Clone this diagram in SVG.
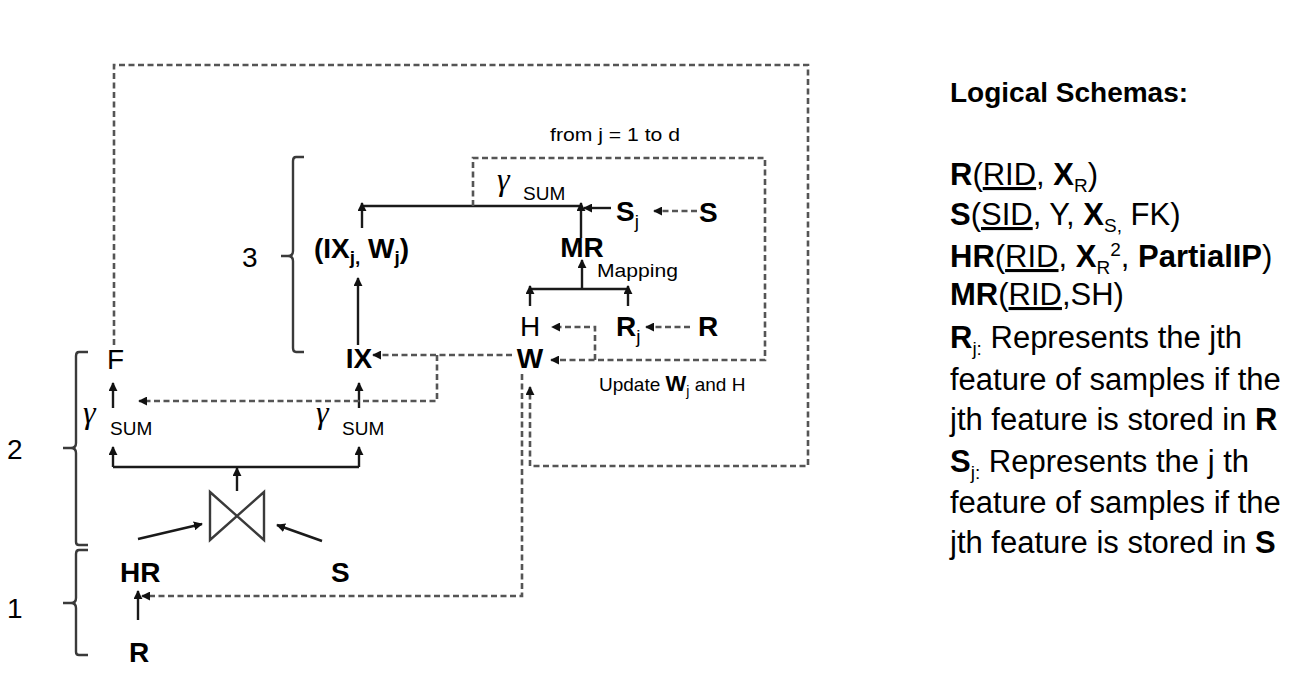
<svg xmlns="http://www.w3.org/2000/svg" width="1312" height="680" viewBox="0 0 1312 680">
<style>
text{font-family:"Liberation Sans",Arial,sans-serif;fill:#000}
.b{font-weight:bold;font-size:28px}
.r{font-size:28px}
.sm{font-size:19px}
.g{font-family:"Liberation Serif","DejaVu Serif",serif;font-style:italic;font-size:32px}
.sum{font-size:19px}
.solid{fill:none;stroke:#1a1a1a;stroke-width:2.4}
.dash{fill:none;stroke:#555;stroke-width:2.6;stroke-dasharray:6 3.5}
.br{fill:none;stroke:#3a3a3a;stroke-width:2.4}
.p{font-size:31px}
.pb{font-weight:bold}
.u{text-decoration:underline}
</style>
<defs>
<marker id="ah" viewBox="0 0 10 10" refX="9" refY="5" markerWidth="9" markerHeight="9" markerUnits="userSpaceOnUse" orient="auto">
<path d="M0,0 L10,5 L0,10 z" fill="#111" stroke="none"/>
</marker>
</defs>

<g id="brackets">
<path class="br" d="M304,157 H296 Q293,157 293,161 V251 Q293,256 288,256 H281 M288,256 Q293,256 293,261 V348 Q293,352 296,352 H304"/>
<path class="br" d="M88,352 H79 Q76,352 76,356 V443 Q76,448 71,448 H63 M71,448 Q76,448 76,453 V542 Q76,545 79,545 H88"/>
<path class="br" d="M88,550 H79 Q76,550 76,554 V598 Q76,603 71,603 H63 M71,603 Q76,603 76,608 V652 Q76,655 79,655 H88"/>
<text class="r" x="242" y="267">3</text>
<text class="r" x="7" y="459">2</text>
<text class="r" x="7" y="618">1</text>
</g>

<g id="connectors">
<!-- solid -->
<path class="solid" d="M113,467 H359"/>
<path class="solid" d="M113,467 V447" marker-end="url(#ah)"/>
<path class="solid" d="M359,467 V447" marker-end="url(#ah)"/>
<path class="solid" d="M237,491 V468" marker-end="url(#ah)"/>
<path class="solid" d="M113,408 V383" marker-end="url(#ah)"/>
<path class="solid" d="M359,408 V383" marker-end="url(#ah)"/>
<path class="solid" d="M358,345 V278" marker-end="url(#ah)"/>
<path class="solid" d="M362,206 H581"/>
<path class="solid" d="M362,228 V203" marker-end="url(#ah)"/>
<path class="solid" d="M581,238 V203" marker-end="url(#ah)"/>
<path class="solid" d="M611,208 H584" marker-end="url(#ah)"/>
<path class="solid" d="M530,289 H628"/>
<path class="solid" d="M530,306 V286" marker-end="url(#ah)"/>
<path class="solid" d="M628,306 V286" marker-end="url(#ah)"/>
<path class="solid" d="M582,289 V260" marker-end="url(#ah)"/>
<path class="solid" d="M138,539 L202,524" marker-end="url(#ah)"/>
<path class="solid" d="M322,541 L277,525" marker-end="url(#ah)"/>
<path class="solid" d="M138,620 V591" marker-end="url(#ah)"/>
<!-- dashed -->
<path class="dash" d="M114,345 V65 H808 V466 H530 V387" marker-end="url(#ah)"/>
<path class="dash" d="M522,374 V596 H142" marker-end="url(#ah)"/>
<path class="dash" d="M512,355 H373" marker-end="url(#ah)"/>
<path class="dash" d="M437,355 V401 H139" marker-end="url(#ah)"/>
<path class="dash" d="M473,206 V158 H765 V360 H551" marker-end="url(#ah)"/>
<path class="dash" d="M595,360 V327 H552" marker-end="url(#ah)"/>
<path class="dash" d="M690,327 H646" marker-end="url(#ah)"/>
<path class="dash" d="M697,211 H654" marker-end="url(#ah)"/>
</g>

<g id="join">
<path class="br" d="M210,492 L264,540 V492 L210,540 Z"/>
</g>

<g id="labels">
<text class="sm" x="550" y="141" textLength="130" lengthAdjust="spacingAndGlyphs">from j = 1 to d</text>
<text class="sm" x="597" y="277" textLength="81" lengthAdjust="spacingAndGlyphs">Mapping</text>
<text class="sm" x="599" y="391">Update <tspan font-weight="bold" font-size="22">W</tspan><tspan font-size="14" dy="5">j</tspan><tspan dy="-5">   and H</tspan></text>
</g>

<g id="node-IXjWj"><text class="b" x="314" y="258">(IX<tspan font-size="19" dy="6">j,</tspan><tspan dy="-6"> W</tspan><tspan font-size="19" dy="6">j</tspan><tspan dy="-6">)</tspan></text></g>
<g id="node-gamma-top"><text class="g" x="497" y="190">γ</text><text class="sum" x="523" y="200">SUM</text></g>
<g id="node-MR"><text class="b" x="582" y="257" text-anchor="middle">MR</text></g>
<g id="node-Sj"><text class="b" x="616" y="221">S<tspan font-size="19" dy="7" font-weight="normal">j</tspan></text></g>
<g id="node-S-top"><text class="b" x="699" y="222">S</text></g>
<g id="node-H"><text class="r" x="530" y="336" text-anchor="middle">H</text></g>
<g id="node-Rj"><text class="b" x="616" y="336">R<tspan font-size="19" dy="7" font-weight="normal">j</tspan></text></g>
<g id="node-R-top"><text class="b" x="698" y="336">R</text></g>
<g id="node-IX"><text class="b" x="359" y="368" text-anchor="middle">IX</text></g>
<g id="node-W"><text class="b" x="530" y="368" text-anchor="middle">W</text></g>
<g id="node-F"><text class="r" x="107" y="369">F</text></g>
<g id="node-gamma-left"><text class="g" x="83" y="423">γ</text><text class="sum" x="110" y="435">SUM</text></g>
<g id="node-gamma-right"><text class="g" x="316" y="423">γ</text><text class="sum" x="342" y="435">SUM</text></g>
<g id="node-HR"><text class="b" x="120" y="582">HR</text></g>
<g id="node-S-bottom"><text class="b" x="331" y="582">S</text></g>
<g id="node-R-bottom"><text class="b" x="129" y="662">R</text></g>

<g id="schemas">
<text x="950" y="102" font-size="28" font-weight="bold">Logical Schemas:</text>
<text class="p" x="950" y="185"><tspan class="pb">R</tspan>(<tspan class="u">RID</tspan>, <tspan class="pb">X</tspan><tspan font-size="19" dy="7">R</tspan><tspan dy="-7">)</tspan></text>
<text class="p" x="950" y="225"><tspan class="pb">S</tspan>(<tspan class="u">SID</tspan>, Y, <tspan class="pb">X</tspan><tspan font-size="19" dy="7">S,</tspan><tspan dy="-7"> FK)</tspan></text>
<text class="p" x="950" y="267"><tspan class="pb">HR</tspan>(<tspan class="u">RID</tspan>, <tspan class="pb">X</tspan><tspan font-size="19" dy="7">R</tspan><tspan font-size="19" dy="-18">2</tspan><tspan dy="11">, </tspan><tspan class="pb">PartialIP</tspan>)</text>
<text class="p" x="950" y="305"><tspan class="pb">MR</tspan>(<tspan class="u">RID</tspan>,SH)</text>
<text class="p" x="950" y="348"><tspan class="pb">R</tspan><tspan font-size="19" dy="7">j:</tspan><tspan dy="-7"> Represents the jth</tspan></text>
<text class="p" x="950" y="390">feature of samples if the</text>
<text class="p" x="950" y="430">jth feature is stored in <tspan class="pb">R</tspan></text>
<text class="p" x="950" y="472"><tspan class="pb">S</tspan><tspan font-size="19" dy="7">j:</tspan><tspan dy="-7"> Represents the j th</tspan></text>
<text class="p" x="950" y="513">feature of samples if the</text>
<text class="p" x="950" y="553">jth feature is stored in <tspan class="pb">S</tspan></text>
</g>
</svg>
